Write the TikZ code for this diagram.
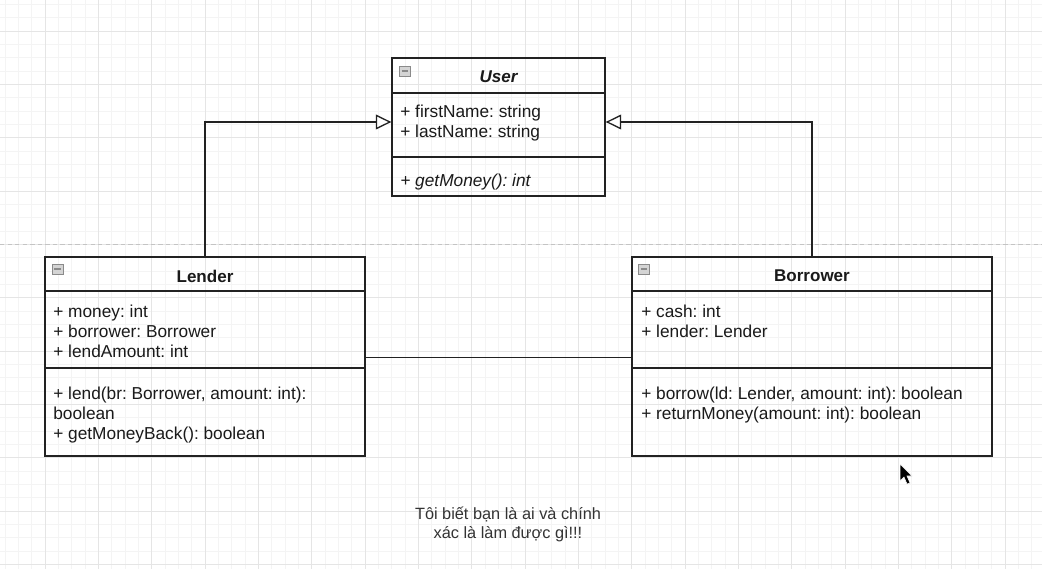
\documentclass[tikz,border=0pt]{standalone}
\usepackage{fontspec}
\setmainfont{Liberation Sans}
\usetikzlibrary{fit,calc,arrows.meta}
\definecolor{umlLine}{HTML}{222222}
\definecolor{umlText}{HTML}{1A1A1A}
\definecolor{noteText}{HTML}{333333}
\definecolor{gridMinor}{HTML}{F4F4F4}
\definecolor{gridMajor}{HTML}{E5E5E5}
\definecolor{pageBreak}{HTML}{C4C4C4}
\definecolor{iconFill}{HTML}{D4D4D4}
\definecolor{iconLine}{HTML}{8A8A8A}
\frenchspacing

\begin{document}
\begin{tikzpicture}[x=0.57pt, y=-0.57pt, font=\fontsize{9.85}{11.4}\selectfont, text=umlText]
	\tikzstyle{part}=[draw=umlLine, line width=0.75pt, inner sep=0pt]
	\tikzstyle{title}=[inner sep=0pt, font=\fontsize{9.7}{11.4}\selectfont\bfseries]
	\tikzstyle{members}=[anchor=west, align=left, inner sep=0pt]
	\tikzstyle{minus}=[draw=iconLine, fill=iconFill, line width=0.4pt, minimum width=6.3pt, minimum height=5.8pt, inner sep=0pt, path picture={\draw[iconLine, line width=0.6pt] ([xshift=-1.8pt]path picture bounding box.center) -- ([xshift=1.8pt]path picture bounding box.center);}]
	\tikzstyle{inherit}=[draw=umlLine, line width=0.75pt, -{Triangle[length=8.8pt, width=8.4pt, fill=white]}]
	\tikzstyle{assoc}=[draw=umlLine, line width=0.75pt]
	
	\useasboundingbox (0,0) rectangle (1042,569);
	\fill[white] (0,0) rectangle (1042,569);
	
	\foreach \i in {0,...,78}
		\draw[gridMinor, line width=0.5pt] (5+\i*13.333,0) -- (5+\i*13.333,569);
	\foreach \j in {0,...,42}
		\draw[gridMinor, line width=0.5pt] (0,4.333+\j*13.333) -- (1042,4.333+\j*13.333);
	\foreach \i in {0,...,18}
		\draw[gridMajor, line width=0.5pt] (45+\i*53.333,0) -- (45+\i*53.333,569);
	\foreach \j in {0,...,10}
		\draw[gridMajor, line width=0.5pt] (0,31+\j*53.333) -- (1042,31+\j*53.333);
	
	\draw[pageBreak, line width=0.5pt, dash pattern=on 2.5pt off 1.8pt] (0,244) -- (1042,244);
	
	\node[part, fit={(392,58) (605,93)}] (user) {};
	\node[part, fit={(392,93) (605,157)}] (userAttr) {};
	\node[part, fit={(392,157) (605,196)}] (userOps) {};
	\node[minus] (userMin) at (405,71) {};
	\node[title] (userTitle) at (499,77) {\textit{User}};
	\node[members] (userAttrText) at (400,123) {+ firstName: string\\+ lastName: string};
	\node[members] (userOpsText) at (400,182) {\textit{+ getMoney(): int}};
	
	\node[part, fit={(45,257) (365,291)}] (lender) {};
	\node[part, fit={(45,291) (365,368)}] (lenderAttr) {};
	\node[part, fit={(45,368) (365,456)}] (lenderOps) {};
	\node[minus] (lenderMin) at (57.5,269) {};
	\node[title] (lenderTitle) at (205,276) {Lender};
	\node[members] (lenderAttrText) at (53,331) {+ money: int\\+ borrower: Borrower\\+ lendAmount: int};
	\node[members] (lenderOpsText) at (53,415) {+ lend(br: Borrower, amount: int):\\boolean\\+ getMoneyBack(): boolean};
	
	\node[part, fit={(632,257) (992,291)}] (borrower) {};
	\node[part, fit={(632,291) (992,368)}] (borrowerAttr) {};
	\node[part, fit={(632,368) (992,456)}] (borrowerOps) {};
	\node[minus] (borrowerMin) at (644,269) {};
	\node[title] (borrowerTitle) at (812,276) {Borrower};
	\node[members] (borrowerAttrText) at (641,321) {+ cash: int\\+ lender: Lender};
	\node[members] (borrowerOpsText) at (641,405) {+ borrow(ld: Lender, amount: int): boolean\\+ returnMoney(amount: int): boolean};
	
	\draw[inherit] (lender.north) |- ($(userAttr.west)+(0,-3)$);
	\draw[inherit] (borrower.north) |- ($(userAttr.east)+(0,-3)$);
	\draw[assoc] ($(lenderAttr.south east)+(0,-11)$) -- ($(borrowerAttr.south west)+(0,-11)$);
	
	\node[align=center, font=\fontsize{9.3}{10.8}\selectfont, text=noteText] (note) at (508,524) {Tôi biết bạn là ai và chính\\xác là làm được gì!!!};
	
	\fill[black, draw=white, line width=0.3pt] (900,464) -- (900,481) -- (904,477) -- (907,484) -- (910,483) -- (907,476) -- (912,476) -- cycle;
	
\end{tikzpicture}
\end{document}
